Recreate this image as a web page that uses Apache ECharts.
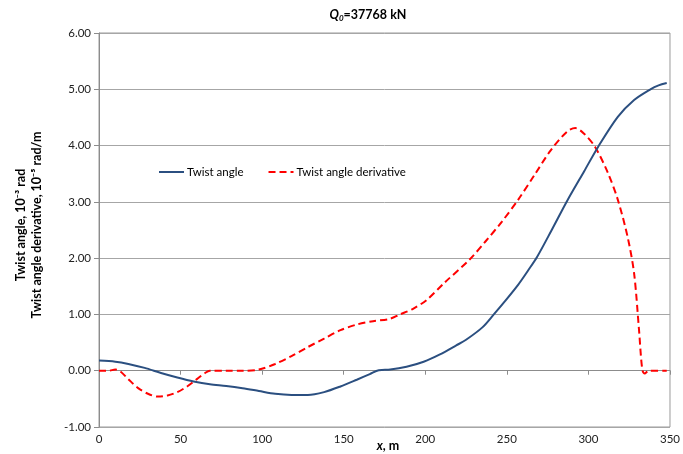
<!DOCTYPE html>
<html>
<head>
<meta charset="utf-8">
<script src="https://cdn.jsdelivr.net/npm/echarts@6/dist/echarts.min.js"></script>
<style>
  html, body { margin: 0; padding: 0; background: #fff; }
  #chart { width: 683px; height: 454px; }
</style>
</head>
<body>
<div id="chart"></div>
<script>
// Twist angle along the span (10^-3 rad)
const angleX = [0, 10, 18, 28, 38, 48, 58, 68, 78, 88, 98, 108, 118, 128, 138, 148, 158, 166, 171.5, 178.5, 188.5, 199, 209, 219, 225, 235, 242, 249, 257, 263, 268.5, 277.5, 287, 297.5, 306, 318, 328, 338, 343, 348];
const angleY = [0.18, 0.16, 0.12, 0.05, -0.04, -0.12, -0.19, -0.24, -0.27, -0.31, -0.36, -0.41, -0.43, -0.43, -0.38, -0.28, -0.16, -0.06, 0.01, 0.02, 0.07, 0.16, 0.29, 0.45, 0.55, 0.77, 1.00, 1.24, 1.53, 1.78, 2.02, 2.50, 3.02, 3.55, 3.98, 4.51, 4.81, 5.00, 5.07, 5.11];

// Twist angle derivative (10^-5 rad/m)
const derivX = [0, 6, 10, 13, 18, 24, 30, 36, 42, 48, 54, 60, 65, 68, 78, 88, 98, 108, 118, 128, 138, 148, 158, 168, 178, 184.5, 192.5, 201, 212, 227, 237, 247, 257, 267, 277, 287, 292, 297, 304, 312, 318, 324, 328, 331, 333, 334.5, 337, 348];
const derivY = [0, 0, 0.02, -0.01, -0.15, -0.31, -0.41, -0.46, -0.44, -0.38, -0.28, -0.15, -0.04, 0, 0, 0, 0.02, 0.12, 0.26, 0.42, 0.57, 0.72, 0.82, 0.88, 0.92, 1.00, 1.10, 1.26, 1.57, 1.97, 2.30, 2.65, 3.04, 3.48, 3.92, 4.25, 4.31, 4.22, 3.98, 3.51, 3.04, 2.38, 1.73, 0.73, 0.02, -0.05, 0, 0];

const seriesNames = ['Twist angle', 'Twist angle derivative'];
const xTicks = { min: 0, max: 350, step: 50 };
const yTicks = { min: -1, max: 6, step: 1 };

const FONT = 'Lato, "Liberation Sans", sans-serif';
const zip = (xs, ys) => xs.map((x, i) => [x, ys[i]]);

const chart = echarts.init(document.getElementById('chart'), null, { renderer: 'canvas' });

chart.setOption({
  animation: false,
  backgroundColor: '#ffffff',
  textStyle: { fontFamily: FONT },
  grid: {
    left: 99, right: 7, top: 33, bottom: 27,
    show: true, borderColor: '#9a9a9a', borderWidth: 1
  },
  graphic: [
    {
      type: 'text',
      style: {
        x: 368, y: 7, align: 'center',
        text: '{q|Q}{s|0}{b|=37768 kN}',
        rich: {
          q: { fontFamily: FONT, fontSize: 12.5, fontWeight: 'bold', fontStyle: 'italic', fill: '#000' },
          s: { fontFamily: FONT, fontSize: 8, fontWeight: 'bold', fontStyle: 'italic', fill: '#000', padding: [7, 0, 0, 0] },
          b: { fontFamily: FONT, fontSize: 12.5, fontWeight: 'bold', fill: '#000' }
        }
      }
    },
    {
      type: 'text',
      x: 29, y: 225, rotation: Math.PI / 2,
      style: {
        text: 'Twist angle, 10\u207B\u00B3 rad\nTwist angle derivative, 10\u207B\u2075 rad/m',
        align: 'center', verticalAlign: 'middle',
        fontFamily: FONT, fontSize: 12.5, fontWeight: 'bold', lineHeight: 16, fill: '#000'
      }
    },
    {
      type: 'text',
      style: {
        x: 388, y: 439, align: 'center',
        text: '{i|x}{b|, m}',
        rich: {
          i: { fontFamily: FONT, fontSize: 12.5, fontWeight: 'bold', fontStyle: 'italic', fill: '#000' },
          b: { fontFamily: FONT, fontSize: 12.5, fontWeight: 'bold', fill: '#000' }
        }
      }
    }
  ],
  legend: {
    left: 158, top: 166, padding: 0,
    itemWidth: 25, itemHeight: 10, itemGap: 24,
    itemStyle: { opacity: 0 },
    textStyle: { fontFamily: FONT, fontSize: 11.5, color: '#000', padding: [0, 0, 0, -2] },
    data: seriesNames
  },
  xAxis: {
    type: 'value',
    min: xTicks.min, max: xTicks.max, interval: xTicks.step,
    axisLine: { onZero: true, lineStyle: { color: '#8c8c8c', width: 1 } },
    axisTick: { show: true, inside: false, length: 4, lineStyle: { color: '#8c8c8c' } },
    axisLabel: { fontFamily: FONT, fontSize: 11.5, color: '#222', margin: 6 },
    splitLine: { show: false }
  },
  yAxis: {
    type: 'value',
    min: yTicks.min, max: yTicks.max, interval: yTicks.step,
    axisLine: { show: true, lineStyle: { color: '#8c8c8c', width: 1 } },
    axisTick: { show: true, length: 5, lineStyle: { color: '#8c8c8c' } },
    axisLabel: { fontFamily: FONT, fontSize: 11.5, color: '#222', margin: 8, formatter: v => v.toFixed(2) },
    splitLine: { show: true, lineStyle: { color: '#a6a6a6', width: 1 } }
  },
  series: [
    {
      name: seriesNames[0], type: 'line',
      data: zip(angleX, angleY),
      smooth: 0.3, symbol: 'none',
      lineStyle: { color: '#2b4f80', width: 2 },
      itemStyle: { color: '#2b4f80' },
      z: 3
    },
    {
      name: seriesNames[1], type: 'line',
      data: zip(derivX, derivY),
      smooth: 0.3, symbol: 'none',
      lineStyle: { color: '#ff0000', width: 2, type: [7, 4] },
      itemStyle: { color: '#ff0000' },
      z: 2
    }
  ]
});
</script>
</body>
</html>
